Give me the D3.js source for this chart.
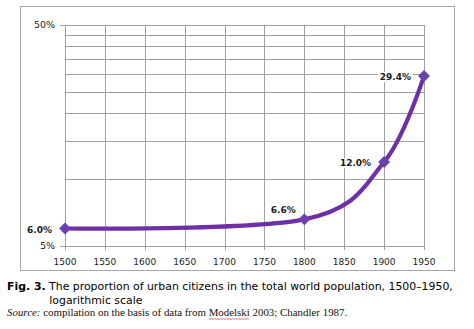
<!DOCTYPE html>
<html>
<head>
<meta charset="utf-8">
<script src="https://cdn.jsdelivr.net/npm/d3@7"></script>
<style>
  html, body { margin: 0; padding: 0; background: #fff; }
  svg { display: block; }
</style>
</head>
<body>
<svg id="chart" width="474" height="329"></svg>
<script>
// ---- data ----
const years = [1500, 1800, 1900, 1950];
const urbanShare = [6.0, 6.6, 12.0, 29.4];          // percent
const dataLabels = ["6.0%", "6.6%", "12.0%", "29.4%"];
const xTicks = [1500, 1550, 1600, 1650, 1700, 1750, 1800, 1850, 1900, 1950];
const yGrid = [5, 10, 15, 20, 25, 30, 35, 40, 45, 50];
const yTickLabels = [{v: 5, t: "5%"}, {v: 50, t: "50%"}];

(function () {
const svg = d3.select("#chart");
const W = 474, H = 329;
svg.append("rect").attr("width", W).attr("height", H).attr("fill", "#fff");

// chart frame
svg.append("rect").attr("x", 20.5).attr("y", 6.5).attr("width", 434).attr("height", 264)
  .attr("fill", "#fff").attr("stroke", "#a6a6a6").attr("stroke-width", 1);

const pL = 65, pR = 424, pT = 25, pB = 246;
const x = d3.scaleLinear().domain([1500, 1950]).range([pL, pR]);
const y = d3.scaleLog().domain([5, 50]).range([pB, pT]);

const grid = svg.append("g").attr("stroke", "#a0a0a0").attr("stroke-width", 1).attr("shape-rendering", "crispEdges");
grid.selectAll("line.h").data(yGrid).join("line").attr("class", "h")
  .attr("x1", pL).attr("x2", pR)
  .attr("y1", d => Math.round(y(d)) + 0.5).attr("y2", d => Math.round(y(d)) + 0.5);
grid.selectAll("line.v").data(xTicks).join("line").attr("class", "v")
  .attr("x1", d => Math.round(x(d)) + 0.5).attr("x2", d => Math.round(x(d)) + 0.5)
  .attr("y1", pT).attr("y2", pB + 4);
grid.selectAll("line.yt").data(yTickLabels).join("line").attr("class", "yt")
  .attr("x1", pL - 5).attr("x2", pL)
  .attr("y1", d => Math.round(y(d.v)) + 0.5).attr("y2", d => Math.round(y(d.v)) + 0.5);

const font = "'DejaVu Sans', Verdana, sans-serif";
svg.append("g").selectAll("text").data(yTickLabels).join("text")
  .attr("x", pL - 10).attr("y", d => y(d.v)).attr("dy", "0.35em")
  .attr("text-anchor", "end").attr("font-family", font).attr("font-size", 9.5)
  .attr("fill", "#222").text(d => d.t);
svg.append("g").selectAll("text").data(xTicks).join("text")
  .attr("x", d => x(d)).attr("y", pB + 16).attr("dy", "0.35em")
  .attr("text-anchor", "middle").attr("font-family", font).attr("font-size", 9)
  .attr("fill", "#222").text(d => d);

// series
const pts = years.map((yr, i) => [x(yr), y(urbanShare[i])]);
svg.append("path")
  .attr("d", d3.line().curve(d3.curveCardinal.tension(0))(pts))
  .attr("fill", "none").attr("stroke", "#6f2fa6").attr("stroke-width", 4.2)
  .attr("stroke-linecap", "round");
svg.append("g").selectAll("path").data(pts).join("path")
  .attr("transform", d => `translate(${d[0]},${d[1]})`)
  .attr("d", d3.symbol().type(d3.symbolDiamond2).size(90))
  .attr("fill", "#6a3fb0");

// data labels
const lab = svg.append("g").attr("font-family", font).attr("font-size", 9).attr("font-weight", "bold").attr("fill", "#1a1a1a");
pts.forEach((p, i) => {
  let tx, ty, anchor;
  if (i === 1) { tx = p[0] - 21; ty = p[1] - 10; anchor = "middle"; }
  else { tx = p[0] - 13; ty = p[1] + 1; anchor = "end"; }
  const t = lab.append("text").attr("x", tx).attr("y", ty).attr("dy", "0.35em")
    .attr("text-anchor", anchor).text(dataLabels[i]);
  const bb = t.node().getBBox();
  lab.insert("rect", "text").attr("x", bb.x - 2).attr("y", bb.y).attr("width", bb.width + 4).attr("height", bb.height)
    .attr("fill", "#fff");
});

// caption
const cap = svg.append("text").attr("x", 7).attr("y", 290).attr("font-family", font).attr("font-size", 10.9).attr("fill", "#000");
cap.append("tspan").attr("font-weight", "bold").text("Fig. 3.");
cap.append("tspan").text(" The proportion of urban citizens in the total world population, 1500\u20131950,");
svg.append("text").attr("x", 49.3).attr("y", 304).attr("font-family", font).attr("font-size", 10.9).attr("fill", "#000")
  .text("logarithmic scale");

const src = svg.append("text").attr("x", 7).attr("y", 315.5).attr("font-family", "'Liberation Serif', 'Times New Roman', serif")
  .attr("font-size", 10.9).attr("fill", "#111");
src.append("tspan").attr("font-style", "italic").text("Source:");
src.append("tspan").text(" compilation on the basis of data from ");
src.append("tspan").text("Modelski");
src.append("tspan").text(" 2003; Chandler 1987.");

// spell-check squiggle under "Modelski"
const pre = "Source: compilation on the basis of data from ";
let mStart = 0, mLen = 40;
try {
  mStart = src.node().getSubStringLength(0, pre.length);
  mLen = src.node().getSubStringLength(pre.length, 8);
} catch (e) { mStart = 204; }
const sq = [];
for (let k = 0; k <= mLen; k += 1.5) sq.push([7 + mStart + k, 318.5 + ((Math.round(k / 1.5) % 2) ? 1 : 0)]);
svg.append("path").attr("d", d3.line()(sq)).attr("fill", "none").attr("stroke", "#e03030").attr("stroke-width", 0.7);
})();
</script>
</body>
</html>
